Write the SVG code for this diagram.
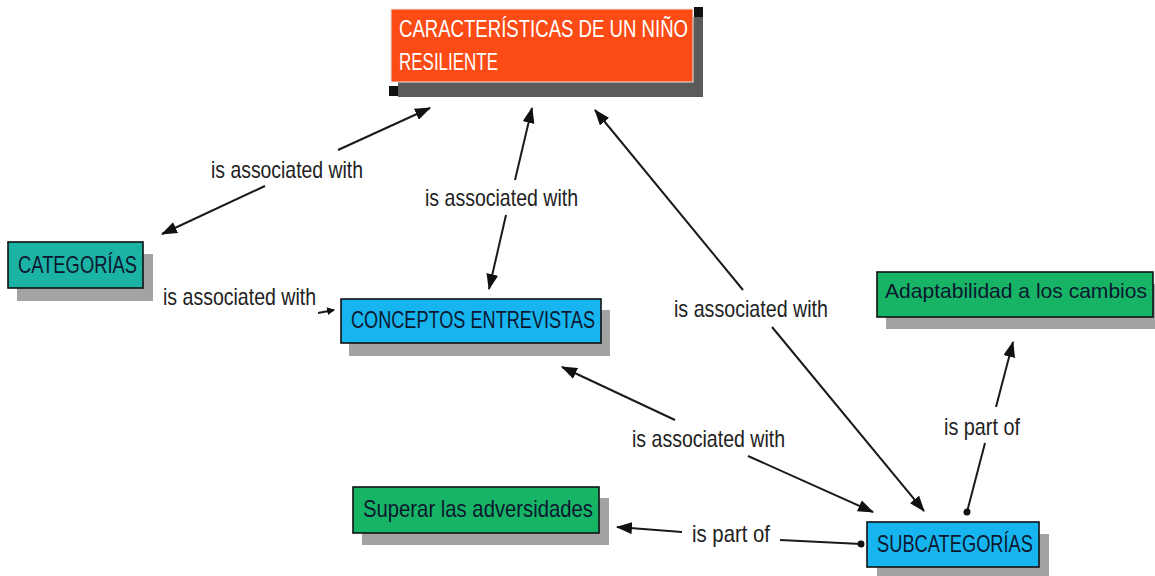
<svg xmlns="http://www.w3.org/2000/svg" width="1155" height="576" viewBox="0 0 1155 576">
<defs>
<style>
.shadow{fill:#a3a3a3}
.box{stroke:#111;stroke-width:1.6}
.nt{font-family:"Liberation Sans",Arial,sans-serif;font-size:24px;fill:#0b1830}
.tt{font-family:"Liberation Sans",Arial,sans-serif;font-size:24px;fill:#ffffff}
.lbl{font-family:"Liberation Sans",Arial,sans-serif;font-size:24px;fill:#222}
.ln{stroke:#1a1a1a;stroke-width:2;fill:none}
</style>
<marker id="arr" markerUnits="userSpaceOnUse" markerWidth="16" markerHeight="12" refX="15" refY="6" orient="auto">
<path d="M0,0 L16,6 L0,12 z" fill="#111"/>
</marker>
<marker id="arrs" markerUnits="userSpaceOnUse" markerWidth="8" markerHeight="8" refX="7" refY="4" orient="auto">
<path d="M0,0 L8,4 L0,8 z" fill="#111"/>
</marker>
<marker id="dot" markerUnits="userSpaceOnUse" markerWidth="8" markerHeight="8" refX="4" refY="4" orient="auto">
<circle cx="4" cy="4" r="3.5" fill="#111"/>
</marker>
</defs>
<rect width="1155" height="576" fill="#ffffff"/>

<g id="connectors">
<line class="ln" x1="338" y1="150" x2="430" y2="108" marker-end="url(#arr)"/>
<line class="ln" x1="265" y1="186" x2="162" y2="234" marker-end="url(#arr)"/>
<text class="lbl" x="211" y="178" textLength="152" lengthAdjust="spacingAndGlyphs">is associated with</text>

<line class="ln" x1="515" y1="180" x2="532" y2="108" marker-end="url(#arr)"/>
<line class="ln" x1="506" y1="215" x2="489" y2="289" marker-end="url(#arr)"/>
<text class="lbl" x="425" y="206" textLength="153" lengthAdjust="spacingAndGlyphs">is associated with</text>

<line class="ln" x1="743" y1="290" x2="595" y2="110" marker-end="url(#arr)"/>
<line class="ln" x1="772" y1="327" x2="924" y2="511" marker-end="url(#arr)"/>
<text class="lbl" x="674" y="317" textLength="154" lengthAdjust="spacingAndGlyphs">is associated with</text>

<line class="ln" x1="675" y1="420" x2="562" y2="367" marker-end="url(#arr)"/>
<line class="ln" x1="748" y1="456" x2="873" y2="512" marker-end="url(#arr)"/>
<text class="lbl" x="632" y="447" textLength="153" lengthAdjust="spacingAndGlyphs">is associated with</text>

<line class="ln" x1="996" y1="407" x2="1013" y2="342" marker-end="url(#arr)"/>
<line class="ln" x1="985" y1="443" x2="967" y2="512" marker-end="url(#dot)"/>
<text class="lbl" x="944" y="435" textLength="76" lengthAdjust="spacingAndGlyphs">is part of</text>

<line class="ln" x1="682" y1="532" x2="617" y2="527" marker-end="url(#arr)"/>
<line class="ln" x1="780" y1="540" x2="861" y2="544" marker-end="url(#dot)"/>
<text class="lbl" x="692" y="542" textLength="78" lengthAdjust="spacingAndGlyphs">is part of</text>

<line class="ln" x1="318" y1="313" x2="334" y2="310" stroke-width="1.5" marker-end="url(#arrs)"/>
<text class="lbl" x="163" y="305" textLength="153" lengthAdjust="spacingAndGlyphs">is associated with</text>
</g>

<g id="node-titulo">
<rect x="398" y="17" width="305" height="80" fill="#5b5b5b"/>
<rect x="391" y="9" width="302" height="73" fill="#fd4b16" stroke="#e8e8e8" stroke-width="1"/>
<rect x="694" y="7" width="9" height="10" fill="#111"/>
<rect x="389" y="86" width="9" height="10" fill="#111"/>
<text class="tt" x="399" y="37" textLength="289" lengthAdjust="spacingAndGlyphs">CARACTERÍSTICAS DE UN NIÑO</text>
<text class="tt" x="399" y="70" textLength="99" lengthAdjust="spacingAndGlyphs">RESILIENTE</text>
</g>

<g id="node-categorias">
<rect class="shadow" x="17" y="254" width="136" height="47"/>
<rect class="box" x="8" y="242" width="135" height="46" fill="#1bb3a4"/>
<text class="nt" x="18" y="273" textLength="119" lengthAdjust="spacingAndGlyphs">CATEGORÍAS</text>
</g>

<g id="node-conceptos">
<rect class="shadow" x="349" y="310" width="261" height="46"/>
<rect class="box" x="341" y="299" width="260" height="44" fill="#17b5ef"/>
<text class="nt" x="351" y="328" textLength="244" lengthAdjust="spacingAndGlyphs">CONCEPTOS ENTREVISTAS</text>
</g>

<g id="node-adaptabilidad">
<rect class="shadow" x="886" y="284" width="269" height="45"/>
<rect class="box" x="877" y="272" width="276" height="45" fill="#17b466"/>
<text class="nt" x="885" y="298" style="font-size:21px" textLength="262" lengthAdjust="spacingAndGlyphs">Adaptabilidad a los cambios</text>
</g>

<g id="node-superar">
<rect class="shadow" x="362" y="498" width="247" height="47"/>
<rect class="box" x="353" y="487" width="246" height="46" fill="#17b466"/>
<text class="nt" x="363" y="517" textLength="230" lengthAdjust="spacingAndGlyphs">Superar las adversidades</text>
</g>

<g id="node-subcategorias">
<rect class="shadow" x="877" y="534" width="172" height="46"/>
<rect class="box" x="867" y="522" width="172" height="45" fill="#17b5ef"/>
<text class="nt" x="877" y="552" textLength="156" lengthAdjust="spacingAndGlyphs">SUBCATEGORÍAS</text>
</g>
</svg>
